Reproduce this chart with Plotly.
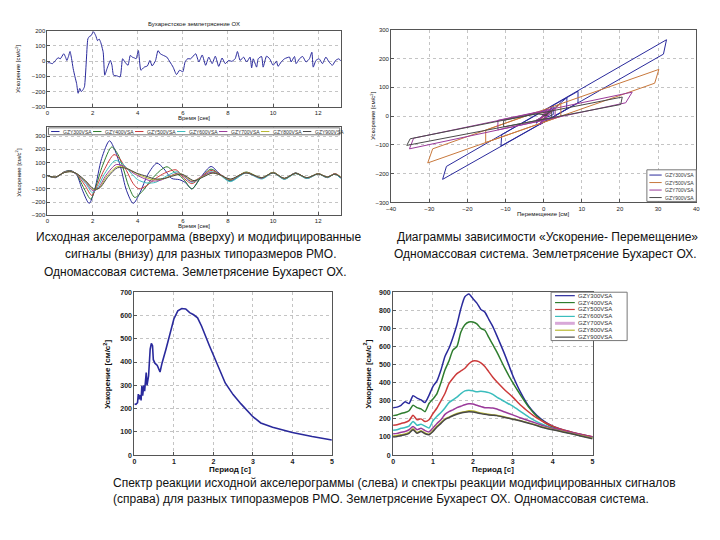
import plotly.graph_objects as go

# ---------------- DATA ----------------
# Plot 1: original accelerogram (time s, accel cm/s2)
acc_t = [0.0, 0.06, 0.22, 0.36, 0.47, 0.57, 0.72, 0.79, 0.86, 0.93, 1.00, 1.07, 1.14, 1.22, 1.29,
         1.36, 1.43, 1.50, 1.57, 1.64, 1.72, 1.79, 1.86, 1.93, 2.04, 2.14, 2.22, 2.29, 2.36, 2.47,
         2.54, 2.64, 2.79, 2.86, 2.93, 3.07, 3.22, 3.33, 3.43, 3.57, 3.67, 3.76, 3.86, 3.93, 4.03,
         4.14, 4.29, 4.43, 4.54, 4.64, 4.79, 4.90, 5.00, 5.14, 5.29, 5.43, 5.57, 5.72, 5.86, 6.00,
         6.10, 6.21, 6.35, 6.57, 6.71, 6.86, 7.01, 7.15, 7.30, 7.44, 7.59, 7.74, 7.88, 8.03, 8.17,
         8.32, 8.42, 8.54, 8.69, 8.83, 8.98, 9.05, 9.12, 9.27, 9.34, 9.49, 9.56, 9.71, 9.85, 10.0,
         10.15, 10.22, 10.36, 10.51, 10.73, 10.80, 10.95, 11.02, 11.17, 11.31, 11.46, 11.61, 11.72,
         11.78, 11.90, 12.04, 12.19, 12.34, 12.48, 12.63, 12.77, 12.92, 13.0]
acc_a = [-15, -10, -17, 4, 22, 15, 48, 30, 4, 30, 63, 15, -50, -104, -147,
         -212, -180, -201, -190, -169, -6, 145, 162, 167, 193, 167, 134, 145, 123, 58,
         -93, -50, 4, -28, -93, -97, -104, 15, -6, -28, 37, 26, 20, 15, 69,
         -60, -40, -32, 4, -32, 4, 69, 48, 37, 26, -6, -40, -89, -60, -71,
         -6, 15, 15, 48, -6, 40, -28, 26, -17, 32, -35, 20, -17, 4, -2,
         15, 63, 4, 26, -6, 26, -45, 15, -40, 15, 30, -40, 32, 15, -28,
         -2, -35, -6, 15, 26, -6, 30, -17, 15, 30, -6, 15, 58,
         -40, 4, 15, -17, 26, -6, -28, 4, 15, 0]

# Plot 2: modified signals
sig_names = ["GZY300VSA", "GZY400VSA", "GZY500VSA", "GZY600VSA", "GZY700VSA", "GZY800VSA", "GZY900VSA"]
tail_t = [8.1, 8.8, 9.5, 10.0, 10.5, 11.0, 11.5, 12.0, 12.4, 12.75, 13.0]
sig300_t = [0, 0.35, 0.75, 1.05, 1.3, 1.55, 1.85, 2.1, 2.4, 2.75, 3.0, 3.25, 3.5, 3.8, 4.1, 4.45, 4.85, 5.15, 5.5, 5.85, 6.1, 6.4, 6.8, 7.25, 7.6]
sig300_a = [0, -15, 30, 38, 5, -110, -210, -100, 130, 265, 190, 60, -110, -210, -130, 10, 95, 55, -20, -30, -50, -100, -10, 70, 20]
sig300_tail = [-40, 25, -20, 25, -25, 20, -20, 15, -15, 15, -20]
sig400_t = [0, 0.35, 0.75, 1.05, 1.3, 1.6, 1.92, 2.12, 2.45, 2.85, 3.1, 3.35, 3.6, 3.87, 4.2, 4.6, 5.0, 5.3, 5.6, 5.9, 6.1, 6.4, 6.8, 7.25, 7.6]
sig400_a = [0, -14, 30, 36, 8, -90, -178, -95, 80, 218, 170, 60, -80, -165, -120, -30, 40, 68, 30, -5, -40, -100, -15, 50, 15]
sig400_tail = [-35, 28, -18, 26, -22, 22, -18, 16, -12, 14, -15]
sig500_t = [0, 0.35, 0.75, 1.05, 1.3, 1.65, 1.97, 2.15, 2.5, 2.95, 3.2, 3.5, 3.8, 4.05, 4.4, 4.8, 5.2, 5.7, 6.0, 6.4, 6.8, 7.25, 7.6]
sig500_a = [0, -12, 28, 34, 10, -70, -150, -95, 40, 160, 130, 40, -60, -100, -75, -20, 20, 45, -10, -60, -10, 40, 15]
sig500_tail = [-30, 25, -20, 22, -25, 18, -20, 14, -12, 16, -10]
sig600_t = [0, 0.35, 0.75, 1.05, 1.3, 1.7, 2.0, 2.2, 2.55, 3.0, 3.3, 3.7, 4.0, 4.4, 4.8, 5.3, 5.75, 6.05, 6.4, 6.8, 7.25, 7.6]
sig600_a = [0, -12, 26, 33, 12, -60, -130, -95, 20, 115, 95, 20, -30, -55, -50, 0, 30, -5, -50, -15, 30, 10]
sig600_tail = [-45, 20, -25, 20, -28, 16, -22, 12, -14, 12, -20]
sig700_t = [0, 0.35, 0.75, 1.05, 1.3, 1.7, 2.02, 2.25, 2.6, 3.05, 3.4, 3.8, 4.2, 4.6, 5.0, 5.4, 5.8, 6.1, 6.4, 6.8, 7.25, 7.6]
sig700_a = [0, -11, 25, 32, 14, -50, -115, -95, 5, 85, 70, 20, -15, -40, -35, -5, 20, -10, -45, -10, 25, 10]
sig700_tail = [-30, 22, -18, 24, -20, 20, -16, 15, -10, 15, -12]
sig800_t = [0, 0.35, 0.75, 1.05, 1.3, 1.7, 2.05, 2.28, 2.65, 3.1, 3.45, 3.9, 4.3, 4.7, 5.1, 5.5, 5.9, 6.15, 6.45, 6.85, 7.3, 7.6]
sig800_a = [0, -10, 24, 31, 15, -45, -105, -95, 0, 70, 60, 20, -10, -30, -25, 0, 15, -10, -40, -10, 20, 10]
sig800_tail = [-28, 24, -15, 24, -20, 18, -15, 15, -10, 14, -8]
sig900_t = [0, 0.35, 0.75, 1.05, 1.3, 1.7, 2.05, 2.3, 2.7, 3.1, 3.5, 3.95, 4.4, 4.8, 5.2, 5.6, 5.95, 6.2, 6.5, 6.9, 7.3, 7.6]
sig900_a = [0, -10, 24, 30, 16, -40, -100, -95, -5, 60, 55, 20, -5, -25, -20, 0, 12, -10, -38, -10, 20, 10]
sig900_tail = [-25, 22, -15, 22, -20, 18, -15, 14, -10, 12, -12]

# Plot 3: acceleration - displacement loops
hyst_names = ["GZY300VSA", "GZY500VSA", "GZY700VSA", "GZY900VSA"]
h300_x = [0, 1.5, -1, 2, -2, 0.5, 3, 6.1, 6.0, -3, -11.2, -11.0, 9.0, 9.0, -26.5, -25.5, 32.2, 31.4, -1, 2.5, 2.5, -2, 0]
h300_y = [0, 20, -10, 25, -25, 5, 30, 64, 24, -42, -104, -65, 86, 46, -220, -175, 265, 215, -30, 36, 5, -20, 0]
h500_x = [0, 2, 4.5, 4.5, -15.2, -15.2, 30.2, 29.1, -30.4, -29.1, -2, 1, -1, 0]
h500_y = [0, 15, 43, -1, -92, -49, 162, 114, -163, -114, 13, 10, -15, 0]
h700_x = [0, 1, -1.5, 2, -1, 3, 3, -12, -12, 23.2, 21.5, -35.2, -34.1, -3, 2, -1, 1.5, -2, 0]
h700_y = [0, 25, -20, 30, -30, 27, -6, -48, -15, 83, 46, -114, -77, 9, 20, -25, 10, -15, 0]
h900_x = [0, 2, 2, -10.5, -10.5, 20.6, 20.2, -35.9, -35, -2, 1, 0]
h900_y = [0, 17, -6, -38, -15, 66, 40, -102, -79, 8, 3, 0]

# Plot 4: response spectrum of original record
sp_T = [0, 0.04, 0.08, 0.1, 0.12, 0.15, 0.17, 0.19, 0.21, 0.24, 0.26, 0.28, 0.3, 0.32, 0.34, 0.36,
        0.4, 0.43, 0.46, 0.48, 0.52, 0.58, 0.65, 0.7, 0.8, 0.9, 1.0, 1.1, 1.2, 1.3, 1.4, 1.5,
        1.6, 1.7, 1.8, 1.9, 2.0, 2.1, 2.2, 2.3, 2.5, 2.7, 3.0, 3.2, 3.5, 4.0, 4.5, 5.0]
sp_A = [220, 218, 225, 262, 240, 258, 235, 298, 255, 300, 275, 345, 355, 300, 325, 340,
        455, 480, 470, 410, 395, 385, 357, 395, 455, 520, 585, 620, 630, 628, 612, 603,
        590, 555, 510, 470, 430, 390, 350, 310, 260, 220, 165, 138, 120, 97, 80, 65]

# Plot 5: response spectra of modified signals
T5 = [0, 0.1, 0.2, 0.3, 0.4, 0.5, 0.6, 0.7, 0.8, 0.9, 1.0, 1.1, 1.2, 1.3, 1.4, 1.5, 1.6, 1.7, 1.8, 1.9,
      2.0, 2.1, 2.2, 2.3, 2.4, 2.5, 2.6, 2.8, 3.0, 3.2, 3.4, 3.6, 3.8, 4.0, 4.25, 4.5, 4.75, 5.0]
spec300 = [262, 265, 275, 295, 285, 328, 315, 305, 290, 330, 380, 410, 470, 545, 590, 650, 720, 810, 875, 890,
           865, 840, 805, 790, 750, 710, 660, 555, 440, 345, 270, 220, 185, 160, 140, 125, 112, 100]
spec400 = [218, 222, 230, 235, 245, 275, 262, 255, 240, 285, 310, 340, 400, 470, 520, 580, 600, 680, 720, 735,
           735, 725, 700, 690, 650, 610, 570, 480, 400, 330, 265, 215, 180, 155, 135, 120, 108, 98]
spec500 = [165, 168, 175, 180, 190, 220, 195, 200, 185, 195, 230, 260, 300, 340, 395, 425, 450, 465, 480, 505,
           520, 520, 510, 490, 460, 430, 405, 360, 320, 275, 238, 205, 180, 160, 140, 125, 112, 102]
spec600 = [137, 140, 148, 152, 160, 186, 165, 170, 160, 150, 190, 215, 235, 260, 290, 305, 320, 340, 355, 358,
           355, 350, 352, 350, 345, 335, 320, 295, 270, 240, 210, 185, 165, 148, 132, 118, 105, 95]
spec700 = [118, 120, 126, 130, 140, 158, 140, 148, 135, 128, 150, 175, 195, 225, 240, 250, 262, 270, 278, 283,
           282, 275, 268, 262, 262, 260, 255, 238, 222, 205, 190, 175, 160, 148, 135, 122, 110, 98]
spec800 = [105, 108, 112, 116, 125, 145, 125, 135, 122, 115, 135, 160, 180, 200, 210, 220, 230, 235, 240, 245,
           243, 238, 232, 228, 225, 222, 220, 210, 200, 190, 178, 165, 152, 142, 130, 118, 105, 93]
spec900 = [100, 103, 108, 112, 120, 140, 120, 130, 118, 112, 130, 155, 175, 196, 207, 217, 226, 232, 237, 240,
           238, 234, 229, 225, 222, 220, 218, 208, 198, 188, 176, 163, 150, 140, 128, 116, 103, 90]

# ---------------- STYLE ----------------
W, H = 720, 540
FONT = "Liberation Sans, Arial, sans-serif"
C7 = ["#2a2a9c", "#2e7d2e", "#cc3a3a", "#3bbdbd", "#9a3a9a", "#b8b832", "#474747"]
C_HYST = ["#2a2a9c", "#c8783c", "#9a3a9a", "#4a4a4a"]


def px_dom_x(a, b):
    return [a / W, b / W]


def px_dom_y(top, bottom):
    return [1 - bottom / H, 1 - top / H]


def px(x):
    return x / W


def py(y):
    return 1 - y / H


fig = go.Figure()

# Plot 1
fig.add_trace(go.Scatter(x=acc_t, y=acc_a, mode="lines",
                         line=dict(color="#2a2a9c", width=1, shape="spline", smoothing=0.5),
                         xaxis="x", yaxis="y", showlegend=False))
# Plot 2
sigs = [(sig300_t, sig300_a, sig300_tail), (sig400_t, sig400_a, sig400_tail), (sig500_t, sig500_a, sig500_tail),
        (sig600_t, sig600_a, sig600_tail), (sig700_t, sig700_a, sig700_tail), (sig800_t, sig800_a, sig800_tail),
        (sig900_t, sig900_a, sig900_tail)]
for i, (tt, aa, tail) in enumerate(sigs):
    fig.add_trace(go.Scatter(x=tt + tail_t, y=aa + tail, mode="lines", name=sig_names[i],
                             line=dict(color=C7[i], width=1, shape="spline", smoothing=0.8),
                             xaxis="x2", yaxis="y2", showlegend=False))
# Plot 3
hyst = [(h300_x, h300_y), (h500_x, h500_y), (h700_x, h700_y), (h900_x, h900_y)]
for i, (hx, hy) in enumerate(hyst):
    fig.add_trace(go.Scatter(x=hx, y=hy, mode="lines", name=hyst_names[i],
                             line=dict(color=C_HYST[i], width=1), xaxis="x3", yaxis="y3", showlegend=False))
# Plot 4
fig.add_trace(go.Scatter(x=sp_T, y=sp_A, mode="lines", line=dict(color="#2a2a9c", width=1.6),
                         xaxis="x4", yaxis="y4", showlegend=False))
# Plot 5
specs = [spec300, spec400, spec500, spec600, spec700, spec800, spec900]
for i, s in enumerate(specs):
    fig.add_trace(go.Scatter(x=T5, y=s, mode="lines", name=sig_names[i],
                             line=dict(color=C7[i], width=1.5, shape="spline", smoothing=0.6),
                             xaxis="x5", yaxis="y5", showlegend=False))


def ax(domain, rng, dtick, anchor, size=6, bold=False):
    return dict(domain=domain, range=rng, dtick=dtick, tick0=0, anchor=anchor,
                showline=True, mirror=True, linecolor="#555555", linewidth=1,
                ticks="inside", ticklen=3, tickcolor="#555555",
                showgrid=True, gridcolor="#c4c4c4", griddash="dot", gridwidth=1,
                zeroline=False, tickfont=dict(family=FONT, size=size, color="#222222",
                                               weight="bold" if bold else "normal"))


fig.update_layout(
    width=W, height=H, margin=dict(l=0, r=0, t=0, b=0),
    paper_bgcolor="white", plot_bgcolor="white", showlegend=False,
    font=dict(family=FONT, color="#111111"),
    xaxis=ax(px_dom_x(43, 340), [0, 13], 2, "y"),
    yaxis=ax(px_dom_y(27, 104), [-300, 200], 100, "x"),
    xaxis2=ax(px_dom_x(43, 340), [0, 13], 2, "y2"),
    yaxis2=ax(px_dom_y(125, 214), [-300, 367], 100, "x2"),
    xaxis3=ax(px_dom_x(391, 700), [-40, 40], 10, "y3"),
    yaxis3=ax(px_dom_y(26, 201), [-300, 300], 100, "x3"),
    xaxis4=ax(px_dom_x(131, 331), [0, 5], 1, "y4", size=7, bold=True),
    yaxis4=ax(px_dom_y(292, 457), [0, 700], 100, "x4", size=7, bold=True),
    xaxis5=ax(px_dom_x(393, 595), [0, 5], 1, "y5", size=7, bold=True),
    yaxis5=ax(px_dom_y(292, 457), [0, 900], 100, "x5", size=7, bold=True),
)

ann = []
shapes = []


def text(x, y, s, size, angle=0, bold=False, xanchor="center"):
    ann.append(dict(x=px(x), y=py(y), xref="paper", yref="paper", text=s, showarrow=False,
                    textangle=angle, xanchor=xanchor, yanchor="middle", borderpad=0,
                    font=dict(family=FONT, size=size, color="#111111", weight="bold" if bold else "normal")))


ylab = "Ускорение [см/с<sup>2</sup>]"
# Plot 1 labels
text(191, 20, "Бухарестское землетрясение ОХ", 6)
text(191, 116, "Время [сек]", 6)
text(13, 65, ylab, 6, angle=-90)
# Plot 2 labels
text(191, 225, "Время [сек]", 6)
text(13, 170, ylab, 6, angle=-90)
# Plot 3 labels
text(545, 213, "Перемещение [см]", 6)
text(372, 113, ylab, 6, angle=-90)
# Plot 4 labels
text(228, 472, "Период [с]", 8, bold=True)
text(103, 375, ylab, 8, angle=-90, bold=True)
# Plot 5 labels
text(494, 472, "Период [с]", 8, bold=True)
text(367, 375, ylab, 8, angle=-90, bold=True)

# Captions
CAP = 12
text(196, 236, "Исходная акселерограмма (вверху) и модифицированные", CAP)
text(198, 253, "сигналы (внизу) для разных типоразмеров РМО.", CAP)
text(193, 272, "Одномассовая система. Землетрясение Бухарест ОХ.", CAP)
text(549, 236, "Диаграммы зависимости «Ускорение- Перемещение»", CAP)
text(547, 253, "Одномассовая система. Землетрясение Бухарест ОХ.", CAP)
text(108, 485, "Спектр реакции исходной акселерограммы (слева) и спектры реакции модифицированных сигналов", CAP, xanchor="left")
text(108, 502, "(справа) для разных типоразмеров РМО. Землетрясение Бухарест ОХ. Одномассовая система.", CAP, xanchor="left")


def legend_box(x0, y0, x1, y1):
    shapes.append(dict(type="rect", xref="paper", yref="paper", x0=px(x0), x1=px(x1), y0=py(y1), y1=py(y0),
                       line=dict(color="#777777", width=1), fillcolor="white", layer="above"))


def legend_entry(lx0, lx1, y, color, label, size, width=1):
    shapes.append(dict(type="line", xref="paper", yref="paper", x0=px(lx0), x1=px(lx1), y0=py(y), y1=py(y),
                       line=dict(color=color, width=width), layer="above"))
    ann.append(dict(x=px(lx1 + 2.5), y=py(y), xref="paper", yref="paper", text=label, showarrow=False,
                    xanchor="left", yanchor="middle", borderpad=0,
                    font=dict(family=FONT, size=size, color="#333333")))


# Plot 2 legend (horizontal)
legend_box(44, 125.5, 339, 132.5)
for i, nm in enumerate(sig_names):
    x0 = 46.7 + i * 42.5
    legend_entry(x0, x0 + 8.5, 129.2, C7[i], nm, 5)

# Plot 3 legend
legend_box(650, 168, 700, 200)
for i, nm in enumerate(hyst_names):
    legend_entry(652.5, 665, 173.3 + i * 7.6, C_HYST[i], nm, 5)

# Plot 5 legend
legend_box(553, 292, 630, 341)
for i, nm in enumerate(sig_names):
    legend_entry(557, 577, 295.5 + i * 7, C7[i] if i != 4 else "#d8a8d8", nm, 6, width=3 if i == 4 else 1.2)

fig.update_layout(annotations=ann, shapes=shapes)
fig.write_html("out.html", config={"displayModeBar": False},
               post_script="document.body.style.margin='0px';")
